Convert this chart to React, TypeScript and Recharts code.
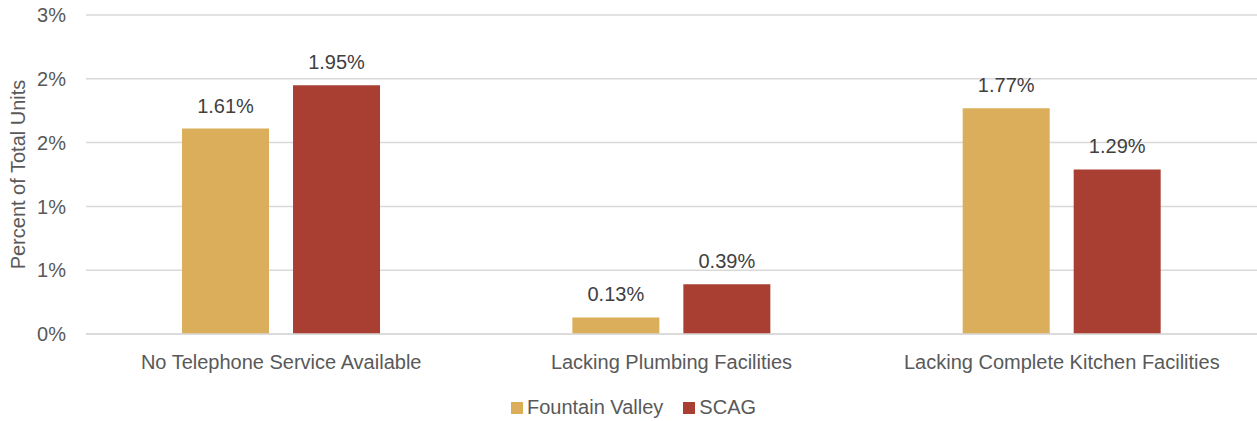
import React from "react";
import { BarChart, Bar, XAxis, YAxis, CartesianGrid, Legend, LabelList } from "recharts";

const categories = ["No Telephone Service Available", "Lacking Plumbing Facilities", "Lacking Complete Kitchen Facilities"];
const fountainValley = [1.61, 0.13, 1.77];
const scag = [1.95, 0.39, 1.29];
const yTicks = [0, 0.5, 1, 1.5, 2, 2.5];

const data = categories.map((c, i) => ({ name: c, fv: fountainValley[i], scag: scag[i] }));

const FONT = "'Liberation Sans', Arial, sans-serif";
const GOLD = "#DAAE5A";
const RED = "#A93F33";
const FS = 20;

const renderLegend = () => (
  <div style={{ display: "flex", justifyContent: "center", alignItems: "center", height: 35, paddingTop: 8, paddingLeft: 10, boxSizing: "border-box", fontFamily: FONT, fontSize: FS, color: "#595959" }}>
    <span style={{ display: "inline-block", width: 12, height: 12, background: GOLD, marginRight: 4 }} />
    <span style={{ marginRight: 20 }}>Fountain Valley</span>
    <span style={{ display: "inline-block", width: 12, height: 12, background: RED, marginRight: 4 }} />
    <span>SCAG</span>
  </div>
);

export default function App() {
  return (
    <div style={{ position: "absolute", left: 0, top: 0, background: "#fff" }}>
      <BarChart
        width={1257}
        height={421}
        data={data}
        margin={{ top: 15, right: 0, left: 0, bottom: 0 }}
        barGap={24}
        barCategoryGap="24.6%"
      >
        <CartesianGrid vertical={false} stroke="#D9D9D9" strokeWidth={1.5} />
        <XAxis
          dataKey="name"
          axisLine={{ stroke: "#D9D9D9", strokeWidth: 1.5 }}
          tickLine={false}
          height={52}
          tickSize={6}
          tickMargin={15}
          tick={{ fill: "#595959", fontSize: FS, fontFamily: FONT }}
          interval={0}
        />
        <YAxis
          domain={[0, 2.5]}
          ticks={yTicks}
          width={86}
          axisLine={false}
          tickLine={false}
          tickSize={6}
          tickMargin={14}
          tickFormatter={(v: number) => `${Math.round(v)}%`}
          tick={{ fill: "#595959", fontSize: FS, fontFamily: FONT }}
          label={{ value: "Percent of Total Units", angle: -90, position: "insideLeft", offset: 18, style: { textAnchor: "middle", fill: "#595959", fontSize: FS, fontFamily: FONT } }}
        />
        <Legend verticalAlign="bottom" content={renderLegend} wrapperStyle={{ height: 35 }} />
        <Bar dataKey="fv" name="Fountain Valley" fill={GOLD} isAnimationActive={false}>
          <LabelList dataKey="fv" position="top" offset={16} formatter={(v: number) => `${v.toFixed(2)}%`} style={{ fill: "#404040", fontSize: FS, fontFamily: FONT }} />
        </Bar>
        <Bar dataKey="scag" name="SCAG" fill={RED} isAnimationActive={false}>
          <LabelList dataKey="scag" position="top" offset={16} formatter={(v: number) => `${v.toFixed(2)}%`} style={{ fill: "#404040", fontSize: FS, fontFamily: FONT }} />
        </Bar>
      </BarChart>
    </div>
  );
}
